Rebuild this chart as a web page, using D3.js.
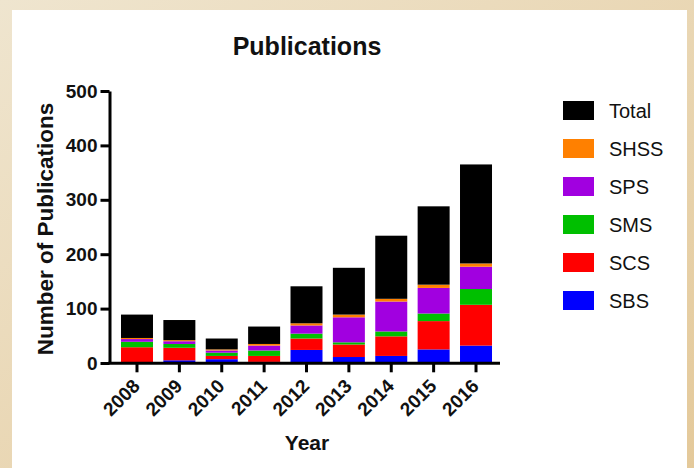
<!DOCTYPE html>
<html>
<head>
<meta charset="utf-8">
<script src="https://d3js.org/d3.v7.min.js"></script>
<style>
  body { margin: 0; }
  svg { display: block; font-family: "Liberation Sans", Arial, sans-serif; }
</style>
</head>
<body>
<svg id="chart" width="694" height="468"></svg>
<script>
// data
var years = ["2008", "2009", "2010", "2011", "2012", "2013", "2014", "2015", "2016"];
var sbs  = [0, 5, 7, 2, 24, 11, 13, 25, 32];
var scs  = [29, 23, 6, 11, 21, 23, 36, 52, 75];
var sms  = [10, 7, 6, 10, 9, 4, 9, 14, 29];
var sps  = [5, 5, 4, 9, 15, 46, 55, 47, 41];
var shss = [2, 2, 2, 3, 4, 5, 5, 6, 6];
var total = [43, 37, 20, 32, 68, 86, 116, 144, 182];
var yTicks = [0, 100, 200, 300, 400, 500];

// stack order bottom -> top
var seriesNames = ["SBS", "SCS", "SMS", "SPS", "SHSS", "Total"];
var seriesValues = [sbs, scs, sms, sps, shss, total];
var colors = ["#0000ff", "#ff0000", "#00bf00", "#a100e0", "#ff8000", "#000000"];

var svg = d3.select("#chart");

// parchment background + white panel
var defs = svg.append("defs");
var grad = defs.append("linearGradient").attr("id", "bg")
    .attr("x1", "0").attr("y1", "0").attr("x2", "1").attr("y2", "1");
grad.append("stop").attr("offset", "0").attr("stop-color", "#efe5cf");
grad.append("stop").attr("offset", "1").attr("stop-color", "#e4c99a");
svg.append("rect").attr("width", 694).attr("height", 468).attr("fill", "url(#bg)");
svg.append("rect").attr("x", 12).attr("y", 10).attr("width", 675).attr("height", 470).attr("fill", "#ffffff");

var rows = years.map(function (y, i) {
    var r = { year: y };
    seriesNames.forEach(function (s, k) { r[s] = seriesValues[k][i]; });
    return r;
});
var stacked = d3.stack().keys(seriesNames)(rows);

var x = d3.scaleBand().domain(years).range([115.8, 497.2])
    .paddingInner(0.245).paddingOuter(0.1225);
var y = d3.scaleLinear().domain([0, 500]).range([363, 91]);

// bars
svg.append("g").selectAll("g")
    .data(stacked)
    .enter().append("g")
    .attr("fill", function (d, i) { return colors[i]; })
    .selectAll("rect")
    .data(function (d) { return d; })
    .enter().append("rect")
    .attr("x", function (d) { return x(d.data.year); })
    .attr("width", x.bandwidth())
    .attr("y", function (d) { return y(d[1]); })
    .attr("height", function (d) { return y(d[0]) - y(d[1]); });

// y axis
var yAxis = svg.append("g")
    .attr("transform", "translate(109.5,0)")
    .call(d3.axisLeft(y).tickValues(yTicks).tickSize(9).tickPadding(3).tickSizeOuter(0));
yAxis.select(".domain").attr("stroke-width", 3).attr("stroke", "#000");
yAxis.selectAll(".tick line").attr("stroke-width", 3);
yAxis.selectAll(".tick text")
    .attr("font-size", 19).attr("font-weight", "bold").attr("fill", "#111")
    .attr("font-family", "Liberation Sans, Arial, sans-serif");

// x axis
var xAxis = svg.append("g")
    .attr("transform", "translate(0,363.3)")
    .call(d3.axisBottom(x).tickSize(9).tickSizeOuter(0));
xAxis.select(".domain").attr("stroke-width", 3).attr("d", "M108,0H500");
xAxis.selectAll(".tick line").attr("stroke-width", 3);
xAxis.selectAll(".tick text")
    .attr("font-size", 19).attr("font-weight", "bold").attr("fill", "#111")
    .attr("font-family", "Liberation Sans, Arial, sans-serif")
    .attr("text-anchor", "end")
    .attr("y", 0).attr("dy", 0)
    .attr("transform", "translate(4,24) rotate(-45)");

// titles
svg.append("text")
    .attr("x", 307).attr("y", 55)
    .attr("text-anchor", "middle")
    .attr("font-size", 25).attr("font-weight", "bold").attr("fill", "#111")
    .text("Publications");

svg.append("text")
    .attr("x", 307).attr("y", 450)
    .attr("text-anchor", "middle")
    .attr("font-size", 21).attr("font-weight", "bold").attr("fill", "#111")
    .text("Year");

svg.append("text")
    .attr("transform", "translate(53,229) rotate(-90)")
    .attr("text-anchor", "middle")
    .attr("font-size", 22.5).attr("font-weight", "bold").attr("fill", "#111")
    .text("Number of Publications");

// legend, top -> bottom is reverse of stack
var legendNames = seriesNames.slice().reverse();
var legendColors = colors.slice().reverse();
var legend = svg.append("g").selectAll("g")
    .data(legendNames)
    .enter().append("g")
    .attr("transform", function (d, i) { return "translate(563," + (101 + i * 38) + ")"; });
legend.append("rect")
    .attr("width", 31).attr("height", 19)
    .attr("fill", function (d, i) { return legendColors[i]; });
legend.append("text")
    .attr("x", 46).attr("y", 16.5)
    .attr("font-size", 20).attr("fill", "#111")
    .text(function (d) { return d; });
</script>
</body>
</html>
